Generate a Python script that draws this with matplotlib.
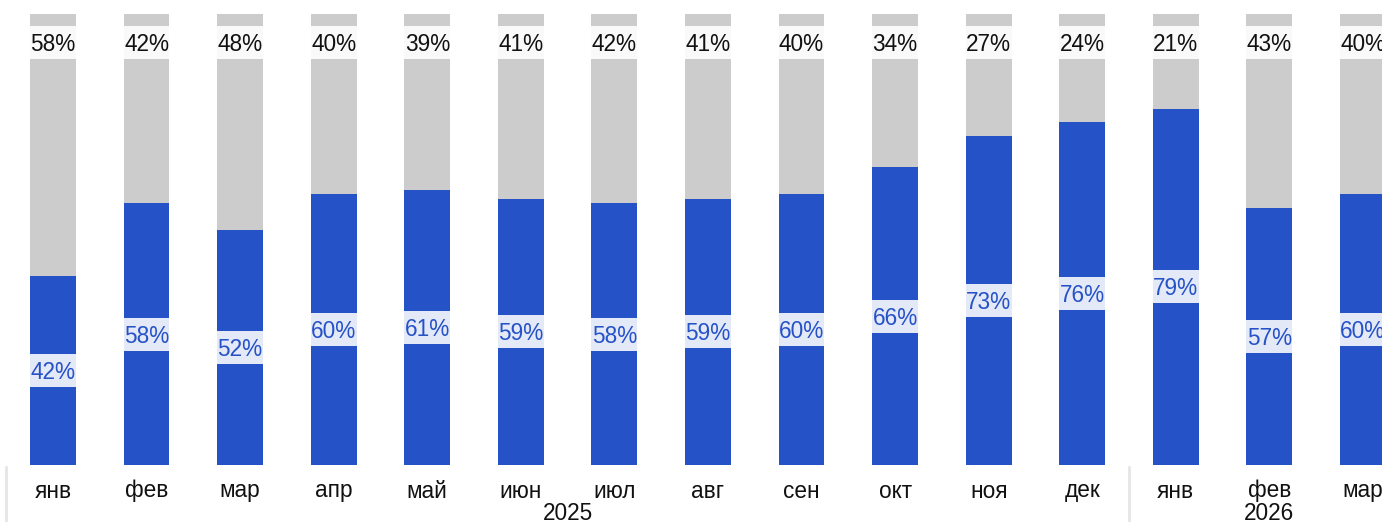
#!/usr/bin/env python
# Monthly share chart: blue vs grey, stacked to 100%

import matplotlib.pyplot as plt
from matplotlib.transforms import blended_transform_factory

months = ['янв', 'фев', 'мар', 'апр', 'май', 'июн', 'июл', 'авг', 'сен',
          'окт', 'ноя', 'дек', 'янв', 'фев', 'мар']
years = ['2025', '2026']
year_sizes = [12, 3]
blue_vals = [42, 58, 52, 60, 61, 59, 58, 59, 60, 66, 73, 76, 79, 57, 60]
grey_vals = [58, 42, 48, 40, 39, 41, 42, 41, 40, 34, 27, 24, 21, 43, 40]

BLUE = '#2652c8'
GREY = '#cccccc'

plt.rcParams['font.family'] = ['Liberation Sans', 'DejaVu Sans']

fig = plt.figure(figsize=(13.82, 5.22), dpi=100)
ax = fig.add_axes([0, 57 / 522, 1, 451 / 522])

x = list(range(len(months)))
w = 0.49
ax.bar(x, blue_vals, width=w, color=BLUE)
ax.bar(x, grey_vals, bottom=blue_vals, width=w, color=GREY)

box_h = 7.3
top_y = 93.6
nudge = 0.45  # text sits a touch below the box centre
for i in x:
    # blue label in the middle of the blue part
    mid = blue_vals[i] / 2
    ax.bar(i, box_h, bottom=mid - box_h / 2, width=w, color='#e4e9f7')
    ax.text(i, mid - nudge, f'{blue_vals[i]}%', ha='center', va='center',
            fontsize=16.3, color=BLUE)
    # grey label near the top
    ax.bar(i, box_h, bottom=top_y - box_h / 2, width=w, color='#f9f9f9')
    ax.text(i, top_y - nudge, f'{grey_vals[i]}%', ha='center', va='center',
            fontsize=16.3, color='#111111')

step = 93.57
ax.set_xlim(-53 / step, (1382 - 53) / step)
ax.set_ylim(0, 100)
ax.axis('off')

trans = blended_transform_factory(ax.transData, fig.transFigure)
for i, m in enumerate(months):
    ax.text(i, 1 - 491 / 522, m, transform=trans, ha='center', va='center',
            fontsize=16.3, color='#111111')

start = 0
for yr, n in zip(years, year_sizes):
    ax.text(start + (n - 1) / 2, 1 - 513 / 522, yr, transform=trans,
            ha='center', va='center', fontsize=16.3, color='#111111')
    ax.plot([start - 0.5, start - 0.5], [0, 1 - 467 / 522], transform=trans,
            color='#e6e6e6', lw=2, clip_on=False)
    start += n

fig.savefig('out.png', dpi=100)
